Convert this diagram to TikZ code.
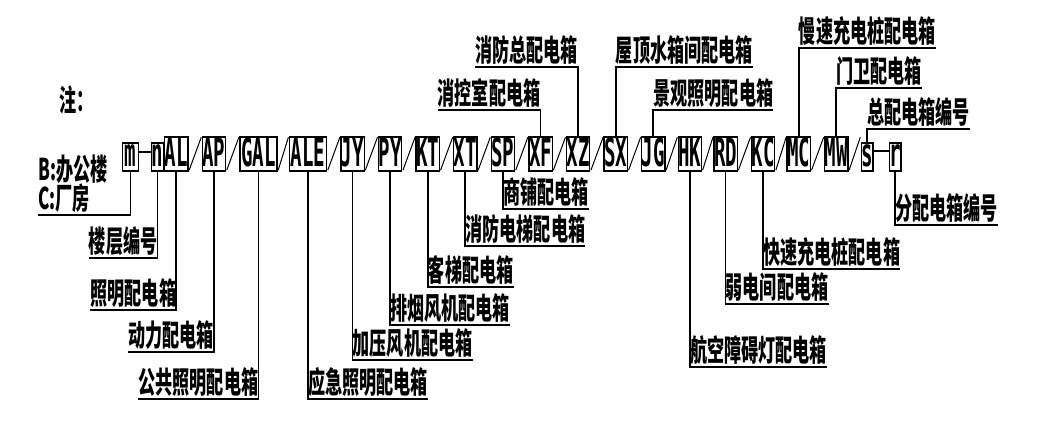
\documentclass[tikz,border=0pt]{standalone}
\usepackage{fontspec}
\usetikzlibrary{positioning}
\newfontfamily\codefont{DejaVu Sans Mono}[FakeStretch=0.49]
\newfontfamily\cjkfont{Noto Sans CJK SC}[FakeStretch=0.57]

\begin{document}
\begin{tikzpicture}[
    x=1pt, y=-1pt,
    node distance=13pt,
    code/.style={rectangle, draw, line width=1.3pt, inner sep=0pt, minimum width=23.3pt, text height=30pt, text depth=4pt, font=\codefont\bfseries\fontsize{39}{39}\selectfont},
    low/.style={code, text height=24pt, minimum width=11.7pt},
    wide/.style={code, minimum width=37.2pt},
    note/.style={inner xsep=0pt, inner ysep=2pt, font=\cjkfont\bfseries\fontsize{30}{29}\selectfont},
    lead/.style={line width=1.8pt},
    slash/.style={line width=1pt, shorten <=1.5pt, shorten >=1pt}
]
  \useasboundingbox (0,0) rectangle (1052,427);

  % Code boxes
  \node[note, anchor=west] (zhu) at (59,100) {注：};
  \node[low, minimum width=15.7pt, anchor=base west] (m) at (122,167) {m};
  \node[low, base right=12pt of m] (n) {n};
  \node[code, base right=0pt of n] (al) {AL};
  \node[code, base right=of al] (ap) {AP};
  \node[wide, base right=of ap] (gal) {GAL};
  \node[wide, base right=11pt of gal] (ale) {ALE};
  \node[code, base right=of ale] (jy) {JY};
  \node[code, base right=of jy] (py) {PY};
  \node[code, base right=of py] (kt) {KT};
  \node[code, base right=of kt] (xt) {XT};
  \node[code, base right=of xt] (sp) {SP};
  \node[code, base right=of sp] (xf) {XF};
  \node[code, base right=of xf] (xz) {XZ};
  \node[code, base right=of xz] (sx) {SX};
  \node[code, base right=of sx] (jg) {JG};
  \node[code, base right=12pt of jg] (hk) {HK};
  \node[code, base right=11pt of hk] (rd) {RD};
  \node[code, base right=of rd] (kc) {KC};
  \node[code, base right=11pt of kc] (mc) {MC};
  \node[code, base right=of mc] (mw) {MW};
  \node[low, base right=12pt of mw] (s) {s};
  \node[low, base right=15pt of s] (r) {r};

  % Labels below
  \node[note, align=left, anchor=south west] (bc) at (38,215) {B:办公楼\\C:厂房};
  \node[note, anchor=south east] (t-n) at (n.south |- 0,258) {楼层编号};
  \node[note, anchor=south east] (t-al) at (al.south |- 0,310) {照明配电箱};
  \node[note, anchor=south east] (t-ap) at (ap.south |- 0,352) {动力配电箱};
  \node[note, anchor=south east] (t-gal) at (gal.south |- 0,399) {公共照明配电箱};
  \node[note, anchor=south west] (t-ale) at (ale.south |- 0,399) {应急照明配电箱};
  \node[note, anchor=south west] (t-jy) at (jy.south |- 0,360) {加压风机配电箱};
  \node[note, anchor=south west] (t-py) at (py.south |- 0,325) {排烟风机配电箱};
  \node[note, anchor=south west] (t-kt) at (kt.south |- 0,287) {客梯配电箱};
  \node[note, anchor=south west] (t-xt) at (xt.south |- 0,246) {消防电梯配电箱};
  \node[note, anchor=south west] (t-sp) at (sp.south |- 0,209) {商铺配电箱};
  \node[note, anchor=south west] (t-hk) at (hk.south |- 0,367) {航空障碍灯配电箱};
  \node[note, anchor=south west] (t-rd) at (rd.south |- 0,304) {弱电间配电箱};
  \node[note, anchor=south west] (t-kc) at (kc.south |- 0,269) {快速充电桩配电箱};
  \node[note, anchor=south west] (t-r) at (r.south |- 0,225) {分配电箱编号};

  % Labels above
  \node[note, anchor=south east] (t-xf) at (xf.north |- 0,110) {消控室配电箱};
  \node[note, anchor=south east] (t-xz) at (xz.north |- 0,67) {消防总配电箱};
  \node[note, anchor=south west] (t-sx) at (sx.north |- 0,67) {屋顶水箱间配电箱};
  \node[note, anchor=south west] (t-jg) at (jg.north |- 0,110) {景观照明配电箱};
  \node[note, anchor=south west] (t-mc) at (mc.north |- 0,48) {慢速充电桩配电箱};
  \node[note, anchor=south west] (t-mw) at (mw.north |- 0,88) {门卫配电箱};
  \node[note, anchor=south west] (t-s) at (s.north |- 0,129) {总配电箱编号};

  % Joins and slashes
  \draw[lead] ([yshift=5pt]m.east) -- ([yshift=5pt]n.west);
  \draw[lead] ([yshift=6pt]s.east) -- ([yshift=6pt]r.west);
  \foreach \a/\b in {al/ap, ap/gal, gal/ale, ale/jy, jy/py, py/kt, kt/xt, xt/sp, sp/xf, xf/xz, xz/sx, sx/jg, jg/hk, hk/rd, rd/kc, kc/mc, mc/mw}
    \draw[slash] (\a.south east) -- (\b.north west);
  \draw[slash] (mw.south east) -- (s.west |- mw.north);

  % Leaders
  \draw[lead] (m.south) |- (bc.south west);
  \foreach \b in {n, al, ap, gal}
    \draw[lead] (\b.south) |- (t-\b.south west);
  \foreach \b in {ale, jy, py, kt, xt, sp, hk, rd, kc, r}
    \draw[lead] (\b.south) |- (t-\b.south east);
  \foreach \b in {xf, xz}
    \draw[lead] (\b.north) |- (t-\b.south west);
  \foreach \b in {sx, jg, mc, mw, s}
    \draw[lead] (\b.north) |- (t-\b.south east);
\end{tikzpicture}
\end{document}
